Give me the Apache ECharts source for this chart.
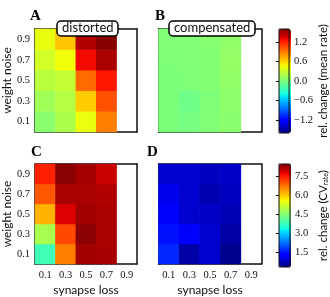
<!DOCTYPE html>
<html><head><meta charset="utf-8">
<script src="https://cdn.jsdelivr.net/npm/echarts@6/dist/echarts.min.js"></script>
<style>html,body{margin:0;padding:0;background:#fff}#c{width:330px;height:297px}</style>
</head><body><div id="c"></div>
<script>
// categories
var synapseLoss = ['0.1','0.3','0.5','0.7','0.9'];
var weightNoise = ['0.1','0.3','0.5','0.7','0.9'];
// values: one row per weight-noise level (0.1 .. 0.9), columns = synapse loss (0.1 .. 0.9)
var meanDistorted = [
  [0.06, 0.19, 0.43, 0.88, null],
  [0.14, 0.22, 0.62, 1.04, null],
  [0.24, 0.28, 0.95, 1.23, null],
  [0.33, 0.45, 1.28, 1.48, null],
  [0.42, 0.64, 1.46, 1.58, null]
];
var meanCompensated = [
  [0.00, -0.02, 0.02, 0.06, null],
  [0.00, -0.05, 0.01, 0.07, null],
  [0.00, 0.01, 0.03, 0.08, null],
  [0.01, 0.02, 0.03, 0.09, null],
  [0.02, 0.02, 0.04, 0.08, null]
];
var cvDistorted = [
  [3.78, 6.62, 8.20, 8.17, null],
  [4.82, 7.10, 8.37, 8.15, null],
  [6.17, 7.80, 8.20, 8.14, null],
  [6.96, 8.15, 8.15, 8.11, null],
  [7.44, 8.37, 8.19, 7.94, null]
];
var cvCompensated = [
  [1.64, 0.58, 0.86, 0.41, null],
  [1.45, 1.22, 0.86, 0.58, null],
  [1.20, 0.86, 0.80, 0.70, null],
  [1.09, 0.86, 0.64, 0.75, null],
  [0.86, 0.86, 0.75, 0.80, null]
];
// colour scale limits and tick labels
var meanRange = [-1.6, 1.6];
var meanTicks = [-1.2, -0.6, 0.0, 0.6, 1.2];
var cvRange = [0.3, 8.45];
var cvTicks = [1.5, 3.0, 4.5, 6.0, 7.5];

// matplotlib "jet" colormap
function seg(pts, t){
  for (var i=1;i<pts.length;i++){
    if (t<=pts[i][0]){var a=pts[i-1],b=pts[i];return a[1]+(b[1]-a[1])*(t-a[0])/(b[0]-a[0]);}
  }
  return pts[pts.length-1][1];
}
var R=[[0,0],[0.35,0],[0.66,1],[0.89,1],[1,0.5]];
var G=[[0,0],[0.125,0],[0.375,1],[0.64,1],[0.91,0],[1,0]];
var B=[[0,0.5],[0.11,1],[0.34,1],[0.65,0],[1,0]];
var jet=[];
for (var k=0;k<=100;k++){var t=k/100;
  jet.push('rgb('+Math.round(seg(R,t)*255)+','+Math.round(seg(G,t)*255)+','+Math.round(seg(B,t)*255)+')');}

function toData(m){var d=[];for(var j=0;j<m.length;j++)for(var i=0;i<m[j].length;i++)if(m[j][i]!==null)d.push([i,j,m[j][i]]);return d;}

var panels=[
  {left:34, top:29, ylab:true, xlab:false, data:meanDistorted},
  {left:158.5, top:29, ylab:false, xlab:false, data:meanCompensated},
  {left:34, top:164, ylab:true, xlab:true, data:cvDistorted},
  {left:158.5, top:164, ylab:false, xlab:true, data:cvCompensated}
];
var serif='Liberation Serif', sans='Lato';
var frame={lineStyle:{color:'#111',width:1.5}};
var tick={inside:true,alignWithLabel:true,length:4,lineStyle:{color:'#333',width:1}};
var grids=[],xAxes=[],yAxes=[],series=[];
panels.forEach(function(p,i){
  grids.push({left:p.left,top:p.top,width:103,height:103});
  xAxes.push({type:'category',data:synapseLoss,gridIndex:i,position:'bottom',axisLine:frame,axisTick:tick,
    axisLabel:{show:p.xlab,fontFamily:serif,fontSize:10.5,color:'#111',margin:6},
    name:p.xlab?'synapse loss':'',nameLocation:'middle',nameGap:20,nameTextStyle:{fontFamily:sans,fontSize:12,color:'#111'}});
  xAxes.push({type:'category',data:synapseLoss,gridIndex:i,position:'top',axisLine:frame,axisTick:tick,axisLabel:{show:false}});
  yAxes.push({type:'category',data:weightNoise,gridIndex:i,position:'left',axisLine:frame,axisTick:tick,
    axisLabel:{show:p.ylab,fontFamily:serif,fontSize:10.5,color:'#111',margin:5},
    name:p.ylab?'weight noise':'',nameLocation:'middle',nameGap:18,nameTextStyle:{fontFamily:sans,fontSize:12,color:'#111'}});
  yAxes.push({type:'category',data:weightNoise,gridIndex:i,position:'right',axisLine:frame,axisTick:tick,axisLabel:{show:false}});
  series.push({type:'heatmap',xAxisIndex:2*i,yAxisIndex:2*i,data:toData(p.data),emphasis:{disabled:true},itemStyle:{borderWidth:0}});
});
// colourbar axes
var cbs=[{top:29,height:104,range:meanRange,ticks:meanTicks,name:'rel. change (mean rate)'},
         {top:164,height:103,range:cvRange,ticks:cvTicks,name:'rel. change (CV{s|rate})'}];
cbs.forEach(function(c,k){
  var gi=4+k;
  grids.push({left:279,top:c.top,width:12,height:c.height,show:true,borderColor:'#111',borderWidth:1,backgroundColor:'transparent',z:10});
  xAxes.push({type:'value',gridIndex:gi,show:false,min:0,max:1});
  yAxes.push({type:'value',gridIndex:gi,position:'right',min:c.range[0],max:c.range[1],
    splitLine:{show:false},axisLine:{show:false},
    axisTick:{inside:true,length:3,customValues:c.ticks,lineStyle:{color:'#111'}},
    axisLabel:{customValues:c.ticks,fontFamily:serif,fontSize:10.5,color:'#111',margin:5,
      formatter:function(v){return (v<0?'\u2212':'')+Math.abs(v).toFixed(1);}},
    name:c.name,nameLocation:'middle',nameRotate:90,nameGap:27,
    nameTextStyle:{fontFamily:sans,fontSize:11.5,color:'#111',rich:{s:{fontFamily:sans,fontSize:7,color:'#111',verticalAlign:'bottom'}}}});
});

var option={
  animation:false,
  backgroundColor:'#fff',
  title:[
    {text:'A',left:30,top:9,padding:0,textStyle:{fontFamily:serif,fontWeight:'bold',fontSize:15,color:'#000'}},
    {text:'B',left:155,top:9,padding:0,textStyle:{fontFamily:serif,fontWeight:'bold',fontSize:15,color:'#000'}},
    {text:'C',left:31,top:145,padding:0,textStyle:{fontFamily:serif,fontWeight:'bold',fontSize:15,color:'#000'}},
    {text:'D',left:147,top:145,padding:0,textStyle:{fontFamily:serif,fontWeight:'bold',fontSize:15,color:'#000'}},
    {text:'distorted',left:57,top:21,padding:[0,5,1,5],backgroundColor:'#fff',borderColor:'#000',borderWidth:1.5,borderRadius:4,
      textStyle:{fontFamily:sans,fontSize:13,fontWeight:'normal',lineHeight:14,color:'#111'}},
    {text:'compensated',left:169,top:21,padding:[0,5,1,5],backgroundColor:'#fff',borderColor:'#000',borderWidth:1.5,borderRadius:4,
      textStyle:{fontFamily:sans,fontSize:13,fontWeight:'normal',lineHeight:14,color:'#111'}}
  ],
  grid:grids, xAxis:xAxes, yAxis:yAxes,
  visualMap:[
    {type:'continuous',seriesIndex:[0,1],dimension:2,min:meanRange[0],max:meanRange[1],inRange:{color:jet},
     left:279,top:29,itemWidth:12,itemHeight:104,padding:0,calculable:false,hoverLink:false,text:null,showLabel:false},
    {type:'continuous',seriesIndex:[2,3],dimension:2,min:cvRange[0],max:cvRange[1],inRange:{color:jet},
     left:279,top:164,itemWidth:12,itemHeight:103,padding:0,calculable:false,hoverLink:false,text:null,showLabel:false}
  ],
  series:series
};
var chart=echarts.init(document.getElementById('c'),null,{renderer:'canvas'});
chart.setOption(option);
</script></body></html>
